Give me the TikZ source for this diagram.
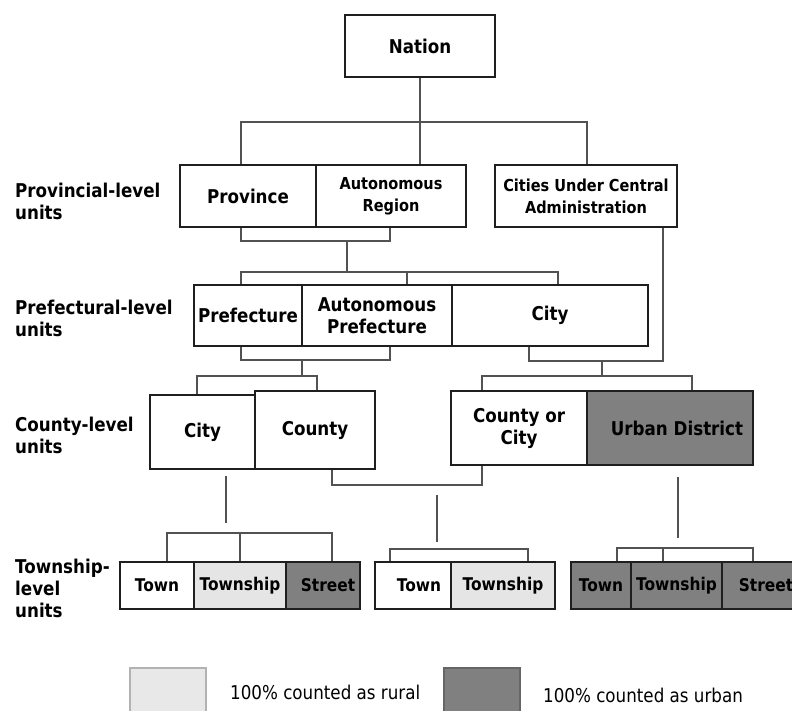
\documentclass[tikz,border=0pt]{standalone}
\usepackage{fontspec}
\setmainfont{DejaVu Sans}[FakeStretch=0.88]
\newcommand\fsz[1]{\fontsize{#1}{22}\selectfont\bfseries}
\begin{document}
\begin{tikzpicture}[x=1pt,y=-1pt,
  box/.style={draw=black!88, line width=2.4pt, inner sep=0pt, align=center, font=\fsz{19}, text=black, line join=miter},
  sbox/.style={box, font=\fsz{16.5}},
  tbox/.style={box, font=\fsz{17.5}, minimum height=47pt},
  rural/.style={fill=black!10},
  urban/.style={fill=black!50},
  conn/.style={draw=black!68, line width=1.8pt, line join=miter},
  lvl/.style={anchor=west, align=left, inner sep=0pt, font=\fsz{19}},
  legtext/.style={anchor=west, inner sep=0pt, font=\fontsize{19}{22}\selectfont}
]
\useasboundingbox (0,0) rectangle (792,711);
\fill[white] (0,0) rectangle (792,711);

% level labels
\node[lvl] (lab1) at (15,201) {Provincial-level\\units};
\node[lvl] (lab2) at (15,318) {Prefectural-level\\units};
\node[lvl] (lab3) at (15,435) {County-level\\units};
\node[lvl] (lab4) at (15,588) {Township-\\level\\units};

% nation
\node[box, minimum width=150pt, minimum height=62pt] (nation) at (420,46) {Nation};

% provincial
\node[box, minimum width=136pt, minimum height=62pt] (prov) at (248,196) {Province};
\node[sbox, minimum width=150pt, minimum height=62pt] (autreg) at (391,196) {Autonomous\\Region};
\node[sbox, minimum width=182pt, minimum height=62pt] (cuca) at (586,196) {Cities Under Central\\Administration};

% prefectural
\node[box, minimum width=108pt, minimum height=61pt] (pref) at (248,315.5) {Prefecture};
\node[box, minimum width=150pt, minimum height=61pt] (autpref) at (377,315.5) {Autonomous\\Prefecture};
\node[box, minimum width=196pt, minimum height=61pt] (pcity) at (550,315.5) {City};

% county
\node[box, minimum width=105pt, minimum height=74pt] (ccity) at (202.5,432) {City};
\node[box, minimum width=120pt, minimum height=78pt] (county) at (315,430) {County};
\node[box, minimum width=136pt, minimum height=74pt] (coc) at (519,428) {County or\\City};
\node[box, urban, minimum width=166pt, minimum height=74pt] (urban) at (670,428) {\hspace*{14pt}Urban District};

% township
\node[tbox, minimum width=74pt] (t1town) at (157,585.5) {Town};
\node[tbox, rural, minimum width=92pt] (t1ts) at (240,585.5) {Township};
\node[tbox, urban, minimum width=74pt] (t1st) at (323,585.5) {\hspace*{10pt}Street};
\node[tbox, minimum width=76pt] (t2town) at (413,585.5) {\hspace*{12pt}Town};
\node[tbox, rural, minimum width=104pt] (t2ts) at (503,585.5) {Township};
\node[tbox, urban, minimum width=60pt] (t3town) at (601,585.5) {Town};
\node[tbox, urban, minimum width=91pt] (t3ts) at (676.5,585.5) {Township};
\node[tbox, urban, minimum width=88pt] (t3st) at (766,585.5) {Street};

% legend
\node[draw=black!30, fill=black!9, line width=1.5pt, minimum width=76pt, minimum height=48pt, inner sep=0pt] (legr) at (168,692) {};
\node[legtext] (legrt) at (230,692) {100\% counted as rural};
\node[draw=black!60, fill=black!50, line width=1.5pt, minimum width=76pt, minimum height=48pt, inner sep=0pt] (legu) at (482,692) {};
\node[legtext] (legut) at (543,695) {100\% counted as urban};

% junction coordinates
\coordinate (bus1L) at (241,122);
\coordinate (bus1R) at (587,122);
\coordinate (br1L) at (241,241);
\coordinate (br1R) at (390,241);
\coordinate (st1) at (347,241);
\coordinate (bus2M) at (347,272);
\coordinate (bus2L) at (241,272);
\coordinate (bus2C) at (407,272);
\coordinate (bus2R) at (558,272);
\coordinate (cj) at (663,361);
\coordinate (cj2) at (529,361);
\coordinate (br2L) at (241,360);
\coordinate (br2R) at (390,360);
\coordinate (st2) at (302,360);
\coordinate (bus3M) at (302,376);
\coordinate (bus3L) at (197,376);
\coordinate (bus3R) at (317,376);
\coordinate (st3) at (602,361);
\coordinate (bus4M) at (602,376);
\coordinate (bus4L) at (482,376);
\coordinate (bus4R) at (692,376);
\coordinate (br3L) at (332,485);
\coordinate (br3R) at (482,485);
\coordinate (s1a) at (226,476);
\coordinate (s1b) at (226,523);
\coordinate (s2a) at (437,495);
\coordinate (s2b) at (437,542);
\coordinate (s3a) at (678,477);
\coordinate (s3b) at (678,538);
\coordinate (tb1L) at (167,533);
\coordinate (tb1M) at (240,533);
\coordinate (tb1R) at (332,533);
\coordinate (tb2L) at (390,549);
\coordinate (tb2R) at (528,549);
\coordinate (tb3L) at (617,548);
\coordinate (tb3M) at (663,548);
\coordinate (tb3R) at (753,548);

% connectors
\draw[conn] (nation.south) -- (nation.south |- autreg.north);
\draw[conn] (bus1L |- prov.north) -- (bus1L) -- (bus1R) -- (bus1R |- cuca.north);
\draw[conn] (br1L |- prov.south) -- (br1L) -- (br1R) -- (br1R |- autreg.south);
\draw[conn] (st1) -- (bus2M);
\draw[conn] (bus2L |- pref.north) -- (bus2L) -- (bus2R) -- (bus2R |- pcity.north);
\draw[conn] (bus2C) -- (bus2C |- autpref.north);
\draw[conn] (cj |- cuca.south) -- (cj) -- (cj2) -- (cj2 |- pcity.south);
\draw[conn] (br2L |- pref.south) -- (br2L) -- (br2R) -- (br2R |- autpref.south);
\draw[conn] (st2) -- (bus3M);
\draw[conn] (bus3L |- ccity.north) -- (bus3L) -- (bus3R) -- (bus3R |- county.north);
\draw[conn] (st3) -- (bus4M);
\draw[conn] (bus4L |- coc.north) -- (bus4L) -- (bus4R) -- (bus4R |- urban.north);
\draw[conn] (br3L |- county.south) -- (br3L) -- (br3R) -- (br3R |- coc.south);
\draw[conn] (s1a) -- (s1b);
\draw[conn] (s2a) -- (s2b);
\draw[conn] (s3a) -- (s3b);
\draw[conn] (tb1L |- t1town.north) -- (tb1L) -- (tb1R) -- (tb1R |- t1st.north);
\draw[conn] (tb1M) -- (tb1M |- t1ts.north);
\draw[conn] (tb2L |- t2town.north) -- (tb2L) -- (tb2R) -- (tb2R |- t2ts.north);
\draw[conn] (tb3L |- t3town.north) -- (tb3L) -- (tb3R) -- (tb3R |- t3st.north);
\draw[conn] (tb3M) -- (tb3M |- t3ts.north);
\end{tikzpicture}
\end{document}
